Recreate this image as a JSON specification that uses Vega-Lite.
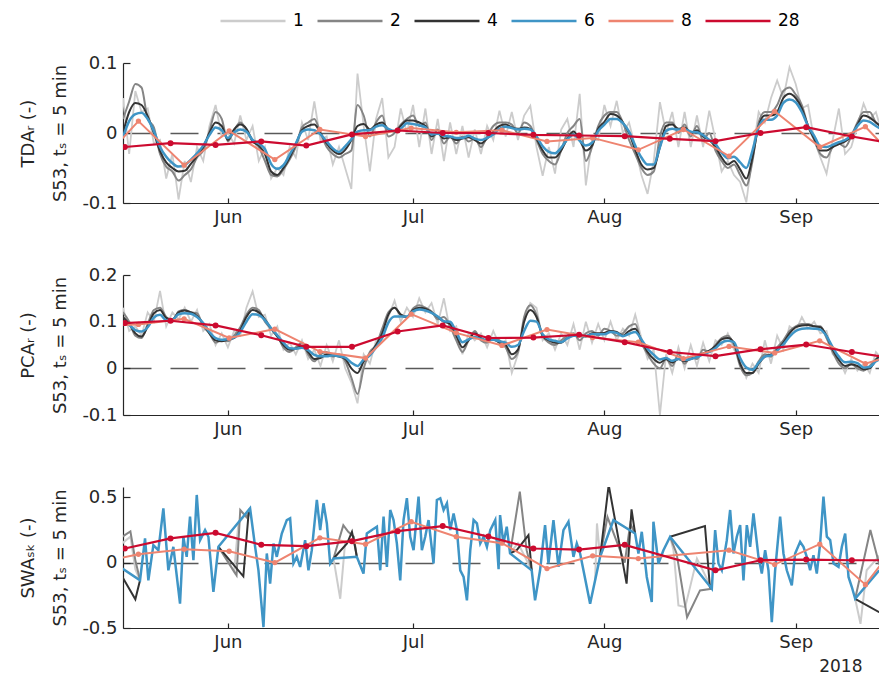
{
"$schema":"https://vega.github.io/schema/vega-lite/v6.json",
"background":"white",
"padding":{"left":19,"top":-13,"right":0,"bottom":0},
"spacing":72,
"bounds":"flush",
"resolve":{"scale":{"color":"shared"}},
"config":{
 "font":"DejaVu Sans",
 "view":{"stroke":null},
 "axis":{"grid":false,"domainColor":"#262626","tickColor":"#262626","labelColor":"#262626","titleColor":"#262626","labelFontSize":18,"titleFontSize":18,"titleFontWeight":"normal","domainWidth":1.2,"tickWidth":1.2,"labelFlush":false},
 "axisX":{"tickSize":-5,"labelPadding":10},
 "axisY":{"tickSize":-7,"labelPadding":13,"titleLineHeight":32,"titlePadding":12},
 "legend":{"orient":"none","legendX":96,"legendY":-76,"direction":"horizontal","columns":6,"symbolType":"stroke","symbolSize":4225,"symbolStrokeWidth":2.5,"labelFontSize":17,"labelColor":"#000000","labelOffset":6,"columnPadding":8,"padding":0}
},
"datasets":{
"p1":[
{"x":14,"l":0.05,"g":0.02,"k":0,"b":-0.006},{"x":15,"l":-0.03,"g":0.045,"k":0.03,"b":0.017},{"x":16,"l":0.06,"g":0.07,"k":0.043,"b":0.027},{"x":17,"l":0.03,"g":0.065,"k":0.04,"b":0.029},{"x":18,"l":0.035,"g":0.02,"k":0.024,"b":0.02},{"x":19,"l":-0.015,"g":0.008,"k":0,"b":0.003},{"x":20,"l":-0.01,"g":-0.03,"k":-0.026,"b":-0.02},{"x":21,"l":-0.065,"g":-0.048,"k":-0.042,"b":-0.034},{"x":22,"l":-0.03,"g":-0.055,"k":-0.05,"b":-0.043},{"x":23,"l":-0.095,"g":-0.068,"k":-0.055,"b":-0.048},
{"x":24,"l":-0.04,"g":-0.06,"k":-0.054,"b":-0.046},{"x":25,"l":-0.07,"g":-0.052,"k":-0.044,"b":-0.038},{"x":26,"l":-0.02,"g":-0.035,"k":-0.033,"b":-0.029},{"x":27,"l":-0.04,"g":-0.025,"k":-0.02,"b":-0.018},{"x":28,"l":0.01,"g":0.002,"k":0,"b":-0.003},{"x":29,"l":0.04,"g":0.03,"k":0.015,"b":0.008},{"x":30,"l":-0.005,"g":0.02,"k":0.01,"b":0.004},{"x":31,"l":0,"g":-0.012,"k":-0.01,"b":-0.007},{"x":32,"l":-0.015,"g":0.004,"k":0.005,"b":0.001},{"x":33,"l":0.025,"g":0.015,"k":0.012,"b":0.005},
{"x":34,"l":-0.01,"g":0.005,"k":0.006,"b":0.002},{"x":35,"l":0.01,"g":-0.01,"k":-0.012,"b":-0.01},{"x":36,"l":-0.04,"g":-0.02,"k":-0.018,"b":-0.015},{"x":37,"l":-0.02,"g":-0.04,"k":-0.03,"b":-0.023},{"x":38,"l":-0.065,"g":-0.06,"k":-0.055,"b":-0.044},{"x":39,"l":-0.05,"g":-0.062,"k":-0.06,"b":-0.051},{"x":40,"l":-0.06,"g":-0.052,"k":-0.05,"b":-0.046},{"x":41,"l":-0.02,"g":-0.038,"k":-0.035,"b":-0.031},{"x":42,"l":-0.035,"g":-0.02,"k":-0.016,"b":-0.015},{"x":43,"l":0.015,"g":0.008,"k":0.004,"b":0.002},
{"x":44,"l":-0.01,"g":0.015,"k":0.01,"b":0.005},{"x":45,"l":0.045,"g":0.02,"k":0.012,"b":0.004},{"x":46,"l":-0.01,"g":0,"k":0,"b":-0.002},{"x":47,"l":-0.005,"g":-0.02,"k":-0.015,"b":-0.012},{"x":48,"l":-0.045,"g":-0.03,"k":-0.025,"b":-0.022},{"x":49,"l":-0.02,"g":-0.035,"k":-0.03,"b":-0.027},{"x":50,"l":-0.05,"g":-0.03,"k":-0.024,"b":-0.019},{"x":51,"l":-0.08,"g":-0.025,"k":-0.01,"b":-0.009},{"x":52,"l":0.085,"g":0.04,"k":0.01,"b":0.002},{"x":53,"l":0.01,"g":0.025,"k":0.013,"b":0.004},
{"x":54,"l":-0.055,"g":-0.005,"k":0.005,"b":0.004},{"x":55,"l":0.02,"g":0.015,"k":0.012,"b":0.009},{"x":56,"l":0.05,"g":0.025,"k":0.015,"b":0.011},{"x":57,"l":-0.035,"g":-0.005,"k":0.005,"b":0.006},{"x":58,"l":-0.02,"g":0,"k":0.002,"b":0.003},{"x":59,"l":0.035,"g":0.012,"k":0.01,"b":0.006},{"x":60,"l":0,"g":0.02,"k":0.018,"b":0.014},{"x":61,"l":0.04,"g":0.025,"k":0.018,"b":0.013},{"x":62,"l":-0.02,"g":0.01,"k":0.015,"b":0.011},{"x":63,"l":0.035,"g":0.015,"k":0.01,"b":0.008},
{"x":64,"l":-0.03,"g":-0.01,"k":-0.005,"b":-0.002},{"x":65,"l":0.02,"g":0.005,"k":0,"b":-0.001},{"x":66,"l":-0.04,"g":-0.015,"k":-0.008,"b":-0.004},{"x":67,"l":0.015,"g":-0.005,"k":-0.006,"b":-0.005},{"x":68,"l":-0.03,"g":-0.015,"k":-0.01,"b":-0.007},{"x":69,"l":0.01,"g":-0.005,"k":-0.008,"b":-0.007},{"x":70,"l":-0.035,"g":-0.012,"k":-0.006,"b":-0.004},{"x":71,"l":0.005,"g":-0.008,"k":-0.01,"b":-0.008},{"x":72,"l":-0.03,"g":-0.02,"k":-0.015,"b":-0.01},{"x":73,"l":0.01,"g":-0.005,"k":-0.008,"b":-0.007},
{"x":74,"l":-0.01,"g":0.01,"k":0.002,"b":-0.002},{"x":75,"l":0.032,"g":0.015,"k":0.01,"b":0.006},{"x":76,"l":-0.005,"g":0.015,"k":0.012,"b":0.009},{"x":77,"l":0.03,"g":0.012,"k":0.008,"b":0.007},{"x":78,"l":-0.01,"g":0,"k":0.006,"b":0.005},{"x":79,"l":0.025,"g":0.015,"k":0.008,"b":0.006},{"x":80,"l":0.039,"g":0.01,"k":0.006,"b":0.005},{"x":81,"l":-0.02,"g":-0.01,"k":-0.008,"b":-0.005},{"x":82,"l":-0.061,"g":-0.03,"k":-0.025,"b":-0.019},{"x":83,"l":-0.02,"g":-0.04,"k":-0.035,"b":-0.027},
{"x":84,"l":-0.058,"g":-0.045,"k":-0.035,"b":-0.029},{"x":85,"l":0.005,"g":-0.025,"k":-0.025,"b":-0.021},{"x":86,"l":0.02,"g":0,"k":-0.008,"b":-0.009},{"x":87,"l":-0.02,"g":0.01,"k":0.002,"b":-0.002},{"x":88,"l":0.056,"g":0.02,"k":-0.01,"b":-0.011},{"x":89,"l":-0.075,"g":-0.04,"k":-0.025,"b":-0.018},{"x":90,"l":-0.01,"g":-0.02,"k":-0.018,"b":-0.014},{"x":91,"l":-0.01,"g":0.01,"k":0.006,"b":0.003},{"x":92,"l":0.04,"g":0.025,"k":0.016,"b":0.012},{"x":93,"l":0.01,"g":0.03,"k":0.027,"b":0.02},
{"x":94,"l":0.046,"g":0.03,"k":0.025,"b":0.02},{"x":95,"l":0,"g":0.015,"k":0.015,"b":0.014},{"x":96,"l":0.015,"g":-0.01,"k":0,"b":0.002},{"x":97,"l":-0.02,"g":-0.03,"k":-0.024,"b":-0.018},{"x":98,"l":-0.06,"g":-0.05,"k":-0.045,"b":-0.035},{"x":99,"l":-0.087,"g":-0.06,"k":-0.052,"b":-0.045},{"x":100,"l":-0.04,"g":-0.055,"k":-0.05,"b":-0.045},{"x":101,"l":0.044,"g":-0.005,"k":-0.02,"b":-0.02},{"x":102,"l":0,"g":0.015,"k":0.01,"b":0.003},{"x":103,"l":0.03,"g":0.015,"k":0.012,"b":0.006},
{"x":104,"l":-0.02,"g":0,"k":0.006,"b":0.005},{"x":105,"l":0.03,"g":0.012,"k":0.008,"b":0.005},{"x":106,"l":-0.02,"g":-0.005,"k":0,"b":0.002},{"x":107,"l":0.025,"g":0.01,"k":0.004,"b":0.001},{"x":108,"l":-0.02,"g":-0.01,"k":-0.005,"b":-0.003},{"x":109,"l":0.032,"g":0,"k":-0.01,"b":-0.01},{"x":110,"l":-0.01,"g":-0.025,"k":-0.02,"b":-0.016},{"x":111,"l":-0.055,"g":-0.04,"k":-0.035,"b":-0.028},{"x":112,"l":-0.04,"g":-0.05,"k":-0.045,"b":-0.036},{"x":113,"l":-0.06,"g":-0.045,"k":-0.04,"b":-0.034},
{"x":114,"l":-0.07,"g":-0.06,"k":-0.052,"b":-0.042},{"x":115,"l":-0.099,"g":-0.075,"k":-0.065,"b":-0.05},{"x":116,"l":-0.03,"g":-0.04,"k":-0.035,"b":-0.025},{"x":117,"l":0.03,"g":0.015,"k":0.01,"b":0.008},{"x":118,"l":0.015,"g":0.03,"k":0.025,"b":0.019},{"x":119,"l":0.05,"g":0.03,"k":0.025,"b":0.019},{"x":120,"l":0.075,"g":0.04,"k":0.03,"b":0.025},{"x":121,"l":0.05,"g":0.06,"k":0.05,"b":0.043},{"x":122,"l":0.094,"g":0.065,"k":0.056,"b":0.048},{"x":123,"l":0.07,"g":0.055,"k":0.05,"b":0.044},
{"x":124,"l":0.035,"g":0.04,"k":0.035,"b":0.03},{"x":125,"l":0.04,"g":0.01,"k":0.01,"b":0.01},{"x":126,"l":-0.01,"g":-0.01,"k":-0.008,"b":-0.004},{"x":127,"l":-0.035,"g":-0.03,"k":-0.025,"b":-0.019},{"x":128,"l":-0.058,"g":-0.035,"k":-0.025,"b":-0.02},{"x":129,"l":-0.01,"g":-0.02,"k":-0.02,"b":-0.017},{"x":130,"l":0.035,"g":-0.015,"k":-0.016,"b":-0.013},{"x":131,"l":-0.03,"g":-0.02,"k":-0.012,"b":-0.01},{"x":132,"l":-0.02,"g":-0.005,"k":-0.005,"b":-0.003},{"x":133,"l":0.01,"g":0.015,"k":0.012,"b":0.01},
{"x":134,"l":0.042,"g":0.03,"k":0.025,"b":0.018},{"x":135,"l":0.02,"g":0.03,"k":0.022,"b":0.016},{"x":136,"l":0.03,"g":0.015,"k":0.015,"b":0.01},{"x":137,"l":0,"g":0.01,"k":0.008,"b":0.005}
],
"p2":[
{"x":14,"l":0.13,"g":0.12,"k":0.11,"b":0.1},{"x":15,"l":0.08,"g":0.1,"k":0.095,"b":0.093},{"x":16,"l":0.09,"g":0.07,"k":0.075,"b":0.082},{"x":17,"l":0.07,"g":0.065,"k":0.068,"b":0.079},{"x":18,"l":0.12,"g":0.095,"k":0.09,"b":0.088},{"x":19,"l":0.1,"g":0.125,"k":0.118,"b":0.109},{"x":20,"l":0.166,"g":0.13,"k":0.125,"b":0.115},{"x":21,"l":0.09,"g":0.11,"k":0.108,"b":0.103},{"x":22,"l":0.12,"g":0.1,"k":0.105,"b":0.104},{"x":23,"l":0.105,"g":0.122,"k":0.12,"b":0.116},
{"x":24,"l":0.13,"g":0.125,"k":0.124,"b":0.118},{"x":25,"l":0.1,"g":0.12,"k":0.12,"b":0.117},{"x":26,"l":0.125,"g":0.118,"k":0.112,"b":0.11},{"x":27,"l":0.08,"g":0.09,"k":0.095,"b":0.097},{"x":28,"l":0.095,"g":0.075,"k":0.075,"b":0.078},{"x":29,"l":0.05,"g":0.055,"k":0.06,"b":0.065},{"x":30,"l":0.075,"g":0.06,"k":0.058,"b":0.061},{"x":31,"l":0.045,"g":0.058,"k":0.062,"b":0.063},{"x":32,"l":0.08,"g":0.07,"k":0.065,"b":0.066},{"x":33,"l":0.07,"g":0.088,"k":0.082,"b":0.078},
{"x":34,"l":0.13,"g":0.115,"k":0.11,"b":0.1},{"x":35,"l":0.165,"g":0.13,"k":0.125,"b":0.116},{"x":36,"l":0.11,"g":0.125,"k":0.12,"b":0.114},{"x":37,"l":0.115,"g":0.1,"k":0.105,"b":0.103},{"x":38,"l":0.07,"g":0.085,"k":0.085,"b":0.086},{"x":39,"l":0.09,"g":0.07,"k":0.068,"b":0.071},{"x":40,"l":0.04,"g":0.045,"k":0.05,"b":0.055},{"x":41,"l":0.055,"g":0.035,"k":0.04,"b":0.043},{"x":42,"l":0.03,"g":0.045,"k":0.042,"b":0.042},{"x":43,"l":0.06,"g":0.055,"k":0.048,"b":0.044},
{"x":44,"l":0.02,"g":0.03,"k":0.035,"b":0.039},{"x":45,"l":0.04,"g":0.015,"k":0.02,"b":0.029},{"x":46,"l":0.005,"g":0.03,"k":0.022,"b":0.026},{"x":47,"l":0.05,"g":0.035,"k":0.03,"b":0.026},{"x":48,"l":0.015,"g":0.025,"k":0.028,"b":0.028},{"x":49,"l":0.06,"g":0.03,"k":0.025,"b":0.026},{"x":50,"l":0,"g":0.015,"k":0.02,"b":0.023},{"x":51,"l":-0.03,"g":-0.02,"k":0,"b":0.012},{"x":52,"l":-0.075,"g":-0.055,"k":-0.01,"b":0.005},{"x":53,"l":0.03,"g":0,"k":0.015,"b":0.019},
{"x":54,"l":0.01,"g":0.035,"k":0.03,"b":0.028},{"x":55,"l":0.06,"g":0.05,"k":0.05,"b":0.045},{"x":56,"l":0.07,"g":0.085,"k":0.075,"b":0.065},{"x":57,"l":0.11,"g":0.12,"k":0.115,"b":0.098},{"x":58,"l":0.145,"g":0.13,"k":0.13,"b":0.111},{"x":59,"l":0.1,"g":0.115,"k":0.115,"b":0.111},{"x":60,"l":0.13,"g":0.11,"k":0.11,"b":0.111},{"x":61,"l":0.11,"g":0.128,"k":0.125,"b":0.122},{"x":62,"l":0.15,"g":0.135,"k":0.13,"b":0.126},{"x":63,"l":0.12,"g":0.13,"k":0.128,"b":0.124},
{"x":64,"l":0.14,"g":0.122,"k":0.12,"b":0.119},{"x":65,"l":0.095,"g":0.105,"k":0.11,"b":0.111},{"x":66,"l":0.15,"g":0.11,"k":0.1,"b":0.101},{"x":67,"l":0.08,"g":0.09,"k":0.095,"b":0.1},{"x":68,"l":0.09,"g":0.06,"k":0.07,"b":0.078},{"x":69,"l":0.03,"g":0.035,"k":0.045,"b":0.056},{"x":70,"l":0.075,"g":0.06,"k":0.06,"b":0.062},{"x":71,"l":0.06,"g":0.08,"k":0.075,"b":0.067},{"x":72,"l":0.075,"g":0.06,"k":0.065,"b":0.063},{"x":73,"l":0.045,"g":0.055,"k":0.06,"b":0.061},
{"x":74,"l":0.08,"g":0.065,"k":0.062,"b":0.061},{"x":75,"l":0.05,"g":0.06,"k":0.055,"b":0.058},{"x":76,"l":0.06,"g":0.045,"k":0.05,"b":0.055},{"x":77,"l":-0.01,"g":0.02,"k":0.03,"b":0.046},{"x":78,"l":0.03,"g":0.035,"k":0.04,"b":0.05},{"x":79,"l":0.1,"g":0.11,"k":0.1,"b":0.08},{"x":80,"l":0.14,"g":0.135,"k":0.125,"b":0.102},{"x":81,"l":0.13,"g":0.115,"k":0.11,"b":0.1},{"x":82,"l":0.06,"g":0.07,"k":0.07,"b":0.073},{"x":83,"l":0.075,"g":0.055,"k":0.06,"b":0.062},
{"x":84,"l":0.04,"g":0.05,"k":0.055,"b":0.059},{"x":85,"l":0.075,"g":0.06,"k":0.055,"b":0.056},{"x":86,"l":0.05,"g":0.07,"k":0.065,"b":0.064},{"x":87,"l":0.095,"g":0.075,"k":0.07,"b":0.07},{"x":88,"l":0.04,"g":0.06,"k":0.07,"b":0.07},{"x":89,"l":0.1,"g":0.075,"k":0.068,"b":0.069},{"x":90,"l":0.055,"g":0.08,"k":0.075,"b":0.073},{"x":91,"l":0.095,"g":0.07,"k":0.075,"b":0.073},{"x":92,"l":0.06,"g":0.085,"k":0.076,"b":0.073},{"x":93,"l":0.1,"g":0.08,"k":0.08,"b":0.078},
{"x":94,"l":0.06,"g":0.07,"k":0.078,"b":0.076},{"x":95,"l":0.085,"g":0.075,"k":0.07,"b":0.069},{"x":96,"l":0.07,"g":0.09,"k":0.08,"b":0.074},{"x":97,"l":0.115,"g":0.095,"k":0.085,"b":0.078},{"x":98,"l":0.065,"g":0.055,"k":0.06,"b":0.062},{"x":99,"l":0.02,"g":0.03,"k":0.035,"b":0.042},{"x":100,"l":0.04,"g":0.01,"k":0.02,"b":0.029},{"x":101,"l":-0.1,"g":0,"k":0.012,"b":0.019},{"x":102,"l":0.03,"g":0.02,"k":0.02,"b":0.022},{"x":103,"l":-0.01,"g":0.005,"k":0.012,"b":0.016},
{"x":104,"l":0.045,"g":0.03,"k":0.02,"b":0.02},{"x":105,"l":0,"g":0.01,"k":0.015,"b":0.018},{"x":106,"l":0.05,"g":0.025,"k":0.02,"b":0.02},{"x":107,"l":0.005,"g":0.02,"k":0.025,"b":0.024},{"x":108,"l":0.055,"g":0.04,"k":0.032,"b":0.03},{"x":109,"l":0.015,"g":0.035,"k":0.038,"b":0.035},{"x":110,"l":0.06,"g":0.05,"k":0.048,"b":0.043},{"x":111,"l":0.05,"g":0.065,"k":0.062,"b":0.055},{"x":112,"l":0.075,"g":0.07,"k":0.065,"b":0.059},{"x":113,"l":0.04,"g":0.05,"k":0.055,"b":0.056},
{"x":114,"l":0.02,"g":0.005,"k":0.01,"b":0.022},{"x":115,"l":-0.02,"g":-0.015,"k":-0.01,"b":0.002},{"x":116,"l":0.01,"g":-0.01,"k":-0.01,"b":-0.003},{"x":117,"l":-0.01,"g":0.015,"k":0.01,"b":0.012},{"x":118,"l":0.06,"g":0.03,"k":0.025,"b":0.025},{"x":119,"l":0.01,"g":0.025,"k":0.03,"b":0.028},{"x":120,"l":0.07,"g":0.045,"k":0.04,"b":0.038},{"x":121,"l":0.04,"g":0.06,"k":0.055,"b":0.051},{"x":122,"l":0.09,"g":0.08,"k":0.075,"b":0.068},{"x":123,"l":0.08,"g":0.09,"k":0.088,"b":0.08},
{"x":124,"l":0.11,"g":0.095,"k":0.092,"b":0.085},{"x":125,"l":0.085,"g":0.095,"k":0.093,"b":0.086},{"x":126,"l":0.1,"g":0.09,"k":0.09,"b":0.085},{"x":127,"l":0.075,"g":0.09,"k":0.088,"b":0.083},{"x":128,"l":0.08,"g":0.065,"k":0.07,"b":0.069},{"x":129,"l":0.03,"g":0.035,"k":0.04,"b":0.045},{"x":130,"l":0.02,"g":0.01,"k":0.018,"b":0.025},{"x":131,"l":-0.01,"g":0,"k":0.005,"b":0.013},{"x":132,"l":0.02,"g":0.01,"k":0.008,"b":0.014},{"x":133,"l":-0.005,"g":0,"k":0.005,"b":0.011},
{"x":134,"l":0.01,"g":-0.005,"k":-0.002,"b":0.002},{"x":135,"l":-0.01,"g":0.005,"k":0,"b":0.003},{"x":136,"l":0.035,"g":0.02,"k":0.018,"b":0.015},{"x":137,"l":0.02,"g":0.03,"k":0.028,"b":0.022}
],
"p3":[
{"x":13.9,"y":-0.045},{"x":16.76,"y":-0.135},{"x":17.57,"y":0.186},{"x":18.11,"y":-0.135},{"x":18.92,"y":0.135},{"x":19.73,"y":0.096},{"x":20.54,"y":0.417},{"x":21.35,"y":-0.058},{"x":22.16,"y":0.122},{"x":23.24,"y":-0.314},{"x":23.78,"y":0.199},{"x":24.32,"y":0.045},{"x":24.86,"y":0.353},{"x":25.41,"y":0.019},{"x":25.95,"y":0.519},{"x":26.49,"y":0.173},{"x":27.3,"y":0.25},{"x":27.84,"y":0.199},{"x":28.65,"y":-0.224},{"x":29.46,"y":0.122},
{"x":34.59,"y":0.417},{"x":35.41,"y":0.122},{"x":35.95,"y":-0.058},{"x":36.76,"y":-0.494},{"x":37.3,"y":0.071},{"x":37.84,"y":-0.16},{"x":38.38,"y":0.147},{"x":38.92,"y":0.045},{"x":39.73,"y":0.224},{"x":40.54,"y":0.327},{"x":41.08,"y":0.34},{"x":41.62,"y":-0.006},{"x":42.16,"y":0.045},{"x":42.7,"y":-0.032},{"x":43.51,"y":0.173},{"x":44.05,"y":-0.058},{"x":44.59,"y":0.096},{"x":45.41,"y":0.481},{"x":45.95,"y":0.25},{"x":46.49,"y":0.455},
{"x":47.03,"y":0.301},{"x":47.57,"y":-0.006},{"x":48.11,"y":0.032},{"x":51.89,"y":0.045},{"x":52.97,"y":-0.083},{"x":53.51,"y":0.224},{"x":54.32,"y":0.25},{"x":55.14,"y":0.276},{"x":55.68,"y":-0.058},{"x":56.22,"y":0.353},{"x":56.76,"y":-0.032},{"x":57.3,"y":0.404},{"x":57.84,"y":0.327},{"x":58.38,"y":0.147},{"x":58.92,"y":-0.135},{"x":59.46,"y":0.327},{"x":60.0,"y":0.494},{"x":60.54,"y":0.199},{"x":61.08,"y":0.096},{"x":61.89,"y":0.506},
{"x":62.43,"y":0.096},{"x":62.97,"y":0.199},{"x":63.51,"y":0.327},{"x":64.32,"y":-0.006},{"x":64.86,"y":0.481},{"x":65.41,"y":0.494},{"x":65.95,"y":0.404},{"x":66.49,"y":0.455},{"x":67.03,"y":0.25},{"x":67.57,"y":0.378},{"x":68.11,"y":0.25},{"x":68.65,"y":-0.058},{"x":69.19,"y":-0.109},{"x":69.73,"y":-0.288},{"x":70.27,"y":0.096},{"x":70.81,"y":0.327},{"x":71.35,"y":0.301},{"x":71.89,"y":0.147},{"x":72.43,"y":0.199},{"x":72.97,"y":0.122},
{"x":73.51,"y":0.25},{"x":74.32,"y":0.327},{"x":74.86,"y":-0.05},{"x":75.1,"y":0.365},{"x":75.64,"y":0.147},{"x":76.18,"y":0.276},{"x":76.72,"y":0.071},{"x":80.23,"y":-0.058},{"x":80.77,"y":-0.288},{"x":81.58,"y":-0.058},{"x":82.39,"y":0.288},{"x":82.94,"y":-0.006},{"x":83.75,"y":0.327},{"x":84.56,"y":-0.032},{"x":85.37,"y":0.25},{"x":86.18,"y":0.314},{"x":86.99,"y":0.045},{"x":87.53,"y":0.147},{"x":88.07,"y":0.071},{"x":88.61,"y":-0.058},
{"x":89.69,"y":-0.314},{"x":90.5,"y":-0.135},{"x":91.31,"y":0.045},{"x":93.47,"y":0.327},{"x":96.98,"y":0.224},{"x":97.52,"y":0.071},{"x":98.06,"y":0.237},{"x":98.87,"y":-0.109},{"x":99.68,"y":-0.301},{"x":99.95,"y":0.314},{"x":100.76,"y":-0.006},{"x":101.57,"y":0.096},{"x":102.65,"y":0.199},{"x":109.41,"y":-0.199},{"x":109.95,"y":0.25},{"x":110.49,"y":-0.006},{"x":111.03,"y":-0.058},{"x":111.84,"y":0.173},{"x":112.38,"y":0.404},{"x":112.92,"y":0.071},
{"x":113.46,"y":0.199},{"x":114.0,"y":0.288},{"x":114.54,"y":-0.135},{"x":115.08,"y":0.288},{"x":115.62,"y":0.122},{"x":116.16,"y":0.378},{"x":116.97,"y":0.045},{"x":117.51,"y":-0.083},{"x":118.05,"y":0.096},{"x":118.59,"y":-0.058},{"x":119.13,"y":-0.455},{"x":119.67,"y":-0.058},{"x":120.48,"y":0.353},{"x":121.02,"y":0.071},{"x":121.56,"y":-0.058},{"x":122.37,"y":-0.173},{"x":122.91,"y":0.071},{"x":123.72,"y":0.16},{"x":124.26,"y":0.122},{"x":124.8,"y":0.045},
{"x":125.34,"y":-0.058},{"x":125.88,"y":0.058},{"x":126.42,"y":-0.083},{"x":126.96,"y":0.147},{"x":127.5,"y":0.506},{"x":128.05,"y":0.199},{"x":128.59,"y":0.173},{"x":129.13,"y":-0.006},{"x":129.94,"y":-0.032},{"x":130.48,"y":0.122},{"x":131.02,"y":0.224},{"x":131.56,"y":-0.109},{"x":132.1,"y":-0.186},{"x":132.64,"y":-0.276},{"x":136.53,"y":-0.058}
],
"p3s":[
{"s":"1","g":"a","x":13.9,"y":0.15},{"s":"1","g":"a","x":15.2,"y":0.2},{"s":"1","g":"a","x":16,"y":-0.05},{"s":"1","g":"a","x":16.76,"y":-0.135},
{"s":"2","g":"a","x":13.9,"y":0.2},{"s":"2","g":"a","x":15.2,"y":0.24},{"s":"2","g":"a","x":16,"y":0.02},{"s":"2","g":"a","x":16.76,"y":-0.135},
{"s":"4","g":"a","x":13.9,"y":-0.11},{"s":"4","g":"a","x":16,"y":-0.28},{"s":"4","g":"a","x":16.76,"y":-0.135},
{"s":"1","g":"b","x":29.46,"y":0.122},{"s":"1","g":"b","x":32,"y":-0.07},{"s":"1","g":"b","x":32.7,"y":0.3},{"s":"1","g":"b","x":34.59,"y":0.417},
{"s":"2","g":"b","x":29.46,"y":0.122},{"s":"2","g":"b","x":32.4,"y":-0.096},{"s":"2","g":"b","x":33,"y":0.404},{"s":"2","g":"b","x":34,"y":0.35},{"s":"2","g":"b","x":34.59,"y":0.417},
{"s":"4","g":"b","x":29.46,"y":0.122},{"s":"4","g":"b","x":33.5,"y":-0.104},{"s":"4","g":"b","x":34.3,"y":0.35},{"s":"4","g":"b","x":34.59,"y":0.417},
{"s":"1","g":"c","x":48.11,"y":0.032},{"s":"1","g":"c","x":49.2,"y":-0.276},{"s":"1","g":"c","x":50,"y":0.16},{"s":"1","g":"c","x":51.4,"y":0.173},{"s":"1","g":"c","x":51.89,"y":0.045},
{"s":"2","g":"c","x":48.11,"y":0.032},{"s":"2","g":"c","x":49.7,"y":0.288},{"s":"2","g":"c","x":50.5,"y":0.237},{"s":"2","g":"c","x":51.4,"y":0.199},{"s":"2","g":"c","x":51.89,"y":0.045},
{"s":"4","g":"c","x":48.11,"y":0.032},{"s":"4","g":"c","x":50.3,"y":0.147},{"s":"4","g":"c","x":51.1,"y":0.237},{"s":"4","g":"c","x":51.6,"y":0.122},{"s":"4","g":"c","x":51.89,"y":0.045},
{"s":"1","g":"d","x":76.72,"y":0.071},{"s":"1","g":"d","x":78,"y":0.15},{"s":"1","g":"d","x":80.23,"y":-0.058},
{"s":"2","g":"d","x":76.72,"y":0.071},{"s":"2","g":"d","x":78.3,"y":0.545},{"s":"2","g":"d","x":79.4,"y":0.096},{"s":"2","g":"d","x":80.23,"y":-0.058},
{"s":"4","g":"d","x":76.72,"y":0.071},{"s":"4","g":"d","x":77.8,"y":0.096},{"s":"4","g":"d","x":79.7,"y":0.212},{"s":"4","g":"d","x":80.23,"y":-0.058},
{"s":"1","g":"e","x":90.5,"y":-0.135},{"s":"1","g":"e","x":90.8,"y":0.301},{"s":"1","g":"e","x":91.31,"y":0.045},{"s":"1","g":"e","x":93.47,"y":0.327},{"s":"1","g":"e","x":96.98,"y":0.224},
{"s":"2","g":"e","x":91.31,"y":0.045},{"s":"2","g":"e","x":92.5,"y":0.35},{"s":"2","g":"e","x":95.3,"y":0},{"s":"2","g":"e","x":96.2,"y":0.3},{"s":"2","g":"e","x":96.98,"y":0.224},
{"s":"4","g":"e","x":91.31,"y":0.045},{"s":"4","g":"e","x":92.7,"y":0.596},{"s":"4","g":"e","x":95.6,"y":-0.16},{"s":"4","g":"e","x":96.4,"y":0.409},{"s":"4","g":"e","x":96.98,"y":0.224},
{"s":"1","g":"f","x":102.65,"y":0.199},{"s":"1","g":"f","x":103.2,"y":0.096},{"s":"1","g":"f","x":104,"y":-0.327},{"s":"1","g":"f","x":105.1,"y":-0.34},{"s":"1","g":"f","x":107,"y":0.032},{"s":"1","g":"f","x":109.41,"y":-0.199},
{"s":"2","g":"f","x":102.65,"y":0.199},{"s":"2","g":"f","x":103.7,"y":0.071},{"s":"2","g":"f","x":105.4,"y":-0.417},{"s":"2","g":"f","x":107.5,"y":-0.212},{"s":"2","g":"f","x":109.41,"y":-0.199},
{"s":"4","g":"f","x":102.65,"y":0.199},{"s":"4","g":"f","x":108.3,"y":0.281},{"s":"4","g":"f","x":109.1,"y":-0.186},{"s":"4","g":"f","x":109.41,"y":-0.199},
{"s":"1","g":"g","x":132.64,"y":-0.276},{"s":"1","g":"g","x":133.5,"y":-0.468},{"s":"1","g":"g","x":134.5,"y":-0.058},{"s":"1","g":"g","x":136.5,"y":0.05},{"s":"1","g":"g","x":138,"y":-0.2},
{"s":"2","g":"g","x":132.64,"y":-0.276},{"s":"2","g":"g","x":135.1,"y":0.25},{"s":"2","g":"g","x":136.5,"y":-0.006},{"s":"2","g":"g","x":138,"y":-0.1},
{"s":"4","g":"g","x":132.64,"y":-0.276},{"s":"4","g":"g","x":136.5,"y":-0.378},{"s":"4","g":"g","x":138,"y":-0.38}
],
"m8":[
{"x":9.2,"a":-0.053,"b":0.09,"c":-0.01},{"x":16.5,"a":0.017,"b":0.094,"c":0.065},{"x":23.9,"a":-0.046,"b":0.106,"c":0.104},{"x":31.2,"a":0.003,"b":0.065,"c":0.088},{"x":38.6,"a":-0.038,"b":0.084,"c":0.001},{"x":45.9,"a":0.005,"b":0.036,"c":0.191},{"x":53.3,"a":-0.005,"b":0.022,"c":0.142},{"x":60.7,"a":0.007,"b":0.116,"c":0.314},{"x":68.0,"a":0.001,"b":0.076,"c":0.199},{"x":75.4,"a":0.004,"b":0.049,"c":0.15},
{"x":82.7,"a":-0.012,"b":0.083,"c":-0.045},{"x":90.1,"a":-0.007,"b":0.066,"c":0.053},{"x":97.5,"a":-0.024,"b":0.056,"c":0.032},{"x":104.8,"a":0.005,"b":0.021,"c":null},{"x":112.2,"a":-0.033,"b":0.047,"c":0.096},{"x":119.6,"a":0.031,"b":0.033,"c":-0.014},{"x":126.9,"a":-0.02,"b":0.059,"c":0.142},{"x":134.3,"a":0.009,"b":0.01,"c":-0.168},{"x":141.7,"a":-0.06,"b":0.04,"c":0.29}
],
"m28":[
{"x":14.3,"a":-0.02,"b":0.097,"c":0.109},{"x":21.7,"a":-0.0145,"b":0.102,"c":0.186},{"x":29.0,"a":-0.017,"b":0.092,"c":0.229},{"x":36.4,"a":-0.012,"b":0.071,"c":0.137},{"x":43.7,"a":-0.018,"b":0.046,"c":0.127},{"x":51.1,"a":-0.002,"b":0.046,"c":0.165},{"x":58.5,"a":0.0036,"b":0.079,"c":0.242},{"x":65.8,"a":0,"b":0.092,"c":0.281},{"x":73.2,"a":0,"b":0.065,"c":0.2},
{"x":80.5,"a":-0.0026,"b":0.066,"c":0.109},{"x":87.9,"a":-0.0036,"b":0.072,"c":0.101},{"x":95.3,"a":-0.0045,"b":0.056,"c":0.137},{"x":102.6,"a":-0.0083,"b":0.035,"c":null},{"x":110.0,"a":-0.0117,"b":0.026,"c":-0.058},{"x":117.3,"a":0,"b":0.041,"c":0.019},{"x":124.7,"a":0.0083,"b":0.051,"c":0.024},{"x":132.1,"a":-0.005,"b":0.035,"c":0.019},{"x":139.4,"a":-0.016,"b":0.02,"c":0.019}
]
},
"vconcat":[
{
 "width":756,"height":140,
 "encoding":{"x":{"field":"x","type":"quantitative","scale":{"domain":[14,136.5],"nice":false,"zero":false},"axis":{"values":[31,61,92,123],"labelExpr":"datum.value==31?'Jun':datum.value==61?'Jul':datum.value==92?'Aug':'Sep'","title":null}}},
 "layer":[
  {"data":{"name":"p1"},"mark":{"type":"line","clip":true,"strokeWidth":1.8},"encoding":{"y":{"field":"l","type":"quantitative","scale":{"domain":[-0.1,0.1],"nice":false,"zero":false},"axis":{"title":["TDAᵣ (-)","S53, tₛ = 5 min"],"values":[-0.1,0,0.1],"labelExpr":"datum.value==0?'0':(datum.value<0?'-':'')+format(abs(datum.value),'.1f')","grid":true,"gridDash":[28,19],"gridColor":"#595959","gridWidth":1.3,"gridOpacity":{"condition":{"test":"datum.value===0","value":1},"value":0}}},"color":{"datum":"1","type":"nominal","scale":{"domain":["1","2","4","6","8","28"],"range":["#cccccc","#858585","#333333","#3f95c6","#ee8470","#cc0a2f"]},"legend":{"title":null}}}},
  {"data":{"name":"p1"},"mark":{"type":"line","clip":true,"strokeWidth":2,"interpolate":"monotone"},"encoding":{"y":{"field":"g","type":"quantitative","scale":{"domain":[-0.1,0.1],"nice":false,"zero":false}},"color":{"datum":"2","type":"nominal","scale":{"domain":["1","2","4","6","8","28"],"range":["#cccccc","#858585","#333333","#3f95c6","#ee8470","#cc0a2f"]},"legend":{"title":null}}}},
  {"data":{"name":"p1"},"mark":{"type":"line","clip":true,"strokeWidth":2,"interpolate":"monotone"},"encoding":{"y":{"field":"k","type":"quantitative","scale":{"domain":[-0.1,0.1],"nice":false,"zero":false}},"color":{"datum":"4","type":"nominal","scale":{"domain":["1","2","4","6","8","28"],"range":["#cccccc","#858585","#333333","#3f95c6","#ee8470","#cc0a2f"]},"legend":{"title":null}}}},
  {"data":{"name":"p1"},"mark":{"type":"line","clip":true,"strokeWidth":2.5,"interpolate":"monotone"},"encoding":{"y":{"field":"b","type":"quantitative","scale":{"domain":[-0.1,0.1],"nice":false,"zero":false}},"color":{"datum":"6","type":"nominal","scale":{"domain":["1","2","4","6","8","28"],"range":["#cccccc","#858585","#333333","#3f95c6","#ee8470","#cc0a2f"]},"legend":{"title":null}}}},
  {"data":{"name":"m8"},"mark":{"type":"line","clip":true,"strokeWidth":2,"invalid":"filter"},"encoding":{"y":{"field":"a","type":"quantitative","scale":{"domain":[-0.1,0.1],"nice":false,"zero":false}},"color":{"datum":"8","type":"nominal","scale":{"domain":["1","2","4","6","8","28"],"range":["#cccccc","#858585","#333333","#3f95c6","#ee8470","#cc0a2f"]},"legend":{"title":null}}}},
  {"data":{"name":"m8"},"mark":{"type":"point","clip":true,"filled":true,"size":28,"opacity":1,"color":"#ee8470","invalid":"filter"},"encoding":{"y":{"field":"a","type":"quantitative","scale":{"domain":[-0.1,0.1],"nice":false,"zero":false}}}},
  {"data":{"name":"m28"},"mark":{"type":"line","clip":true,"strokeWidth":2.2,"invalid":"filter"},"encoding":{"y":{"field":"a","type":"quantitative","scale":{"domain":[-0.1,0.1],"nice":false,"zero":false}},"color":{"datum":"28","type":"nominal","scale":{"domain":["1","2","4","6","8","28"],"range":["#cccccc","#858585","#333333","#3f95c6","#ee8470","#cc0a2f"]},"legend":{"title":null}}}},
  {"data":{"name":"m28"},"mark":{"type":"point","clip":true,"filled":true,"size":36,"opacity":1,"color":"#cc0a2f","invalid":"filter"},"encoding":{"y":{"field":"a","type":"quantitative","scale":{"domain":[-0.1,0.1],"nice":false,"zero":false}}}}
 ]
},
{
 "width":756,"height":140,
 "encoding":{"x":{"field":"x","type":"quantitative","scale":{"domain":[14,136.5],"nice":false,"zero":false},"axis":{"values":[31,61,92,123],"labelExpr":"datum.value==31?'Jun':datum.value==61?'Jul':datum.value==92?'Aug':'Sep'","title":null}}},
 "layer":[
  {"data":{"name":"p2"},"mark":{"type":"line","clip":true,"strokeWidth":1.8},"encoding":{"y":{"field":"l","type":"quantitative","scale":{"domain":[-0.1,0.2],"nice":false,"zero":false},"axis":{"title":["PCAᵣ (-)","S53, tₛ = 5 min"],"values":[-0.1,0,0.1,0.2],"labelExpr":"datum.value==0?'0':(datum.value<0?'-':'')+format(abs(datum.value),'.1f')","grid":true,"gridDash":[28,19],"gridColor":"#595959","gridWidth":1.3,"gridOpacity":{"condition":{"test":"datum.value===0","value":1},"value":0}}},"color":{"datum":"1","type":"nominal","scale":{"domain":["1","2","4","6","8","28"],"range":["#cccccc","#858585","#333333","#3f95c6","#ee8470","#cc0a2f"]},"legend":{"title":null}}}},
  {"data":{"name":"p2"},"mark":{"type":"line","clip":true,"strokeWidth":2,"interpolate":"monotone"},"encoding":{"y":{"field":"g","type":"quantitative","scale":{"domain":[-0.1,0.2],"nice":false,"zero":false}},"color":{"datum":"2","type":"nominal","scale":{"domain":["1","2","4","6","8","28"],"range":["#cccccc","#858585","#333333","#3f95c6","#ee8470","#cc0a2f"]},"legend":{"title":null}}}},
  {"data":{"name":"p2"},"mark":{"type":"line","clip":true,"strokeWidth":2,"interpolate":"monotone"},"encoding":{"y":{"field":"k","type":"quantitative","scale":{"domain":[-0.1,0.2],"nice":false,"zero":false}},"color":{"datum":"4","type":"nominal","scale":{"domain":["1","2","4","6","8","28"],"range":["#cccccc","#858585","#333333","#3f95c6","#ee8470","#cc0a2f"]},"legend":{"title":null}}}},
  {"data":{"name":"p2"},"mark":{"type":"line","clip":true,"strokeWidth":2.5,"interpolate":"monotone"},"encoding":{"y":{"field":"b","type":"quantitative","scale":{"domain":[-0.1,0.2],"nice":false,"zero":false}},"color":{"datum":"6","type":"nominal","scale":{"domain":["1","2","4","6","8","28"],"range":["#cccccc","#858585","#333333","#3f95c6","#ee8470","#cc0a2f"]},"legend":{"title":null}}}},
  {"data":{"name":"m8"},"mark":{"type":"line","clip":true,"strokeWidth":2,"invalid":"filter"},"encoding":{"y":{"field":"b","type":"quantitative","scale":{"domain":[-0.1,0.2],"nice":false,"zero":false}},"color":{"datum":"8","type":"nominal","scale":{"domain":["1","2","4","6","8","28"],"range":["#cccccc","#858585","#333333","#3f95c6","#ee8470","#cc0a2f"]},"legend":{"title":null}}}},
  {"data":{"name":"m8"},"mark":{"type":"point","clip":true,"filled":true,"size":28,"opacity":1,"color":"#ee8470","invalid":"filter"},"encoding":{"y":{"field":"b","type":"quantitative","scale":{"domain":[-0.1,0.2],"nice":false,"zero":false}}}},
  {"data":{"name":"m28"},"mark":{"type":"line","clip":true,"strokeWidth":2.2,"invalid":"filter"},"encoding":{"y":{"field":"b","type":"quantitative","scale":{"domain":[-0.1,0.2],"nice":false,"zero":false}},"color":{"datum":"28","type":"nominal","scale":{"domain":["1","2","4","6","8","28"],"range":["#cccccc","#858585","#333333","#3f95c6","#ee8470","#cc0a2f"]},"legend":{"title":null}}}},
  {"data":{"name":"m28"},"mark":{"type":"point","clip":true,"filled":true,"size":36,"opacity":1,"color":"#cc0a2f","invalid":"filter"},"encoding":{"y":{"field":"b","type":"quantitative","scale":{"domain":[-0.1,0.2],"nice":false,"zero":false}}}}
 ]
},
{
 "width":756,"height":141,
 "encoding":{"x":{"field":"x","type":"quantitative","scale":{"domain":[14,136.5],"nice":false,"zero":false},"axis":{"values":[31,61,92,123],"labelExpr":"datum.value==31?'Jun':datum.value==61?'Jul':datum.value==92?'Aug':'Sep'","title":"2018","titleFontSize":17,"titleAlign":"right","titleX":739,"titleY":38,"titleBaseline":"middle"}}},
 "layer":[
  {"data":{"name":"p3s"},"mark":{"type":"line","clip":true,"strokeWidth":2},"encoding":{"y":{"field":"y","type":"quantitative","scale":{"domain":[-0.5,0.58],"nice":false,"zero":false},"axis":{"title":["SWAₛₖ (-)","S53, tₛ = 5 min"],"values":[-0.5,0,0.5],"labelExpr":"datum.value==0?'0':(datum.value<0?'-':'')+format(abs(datum.value),'.1f')","grid":true,"gridDash":[28,19],"gridColor":"#595959","gridWidth":1.3,"gridOpacity":{"condition":{"test":"datum.value===0","value":1},"value":0}}},"detail":{"field":"g","type":"nominal"},"color":{"field":"s","type":"nominal","scale":{"domain":["1","2","4","6","8","28"],"range":["#cccccc","#858585","#333333","#3f95c6","#ee8470","#cc0a2f"]},"legend":{"title":null}}}},
  {"data":{"name":"p3"},"mark":{"type":"line","clip":true,"strokeWidth":2.5},"encoding":{"y":{"field":"y","type":"quantitative","scale":{"domain":[-0.5,0.58],"nice":false,"zero":false}},"color":{"datum":"6","type":"nominal","scale":{"domain":["1","2","4","6","8","28"],"range":["#cccccc","#858585","#333333","#3f95c6","#ee8470","#cc0a2f"]},"legend":{"title":null}}}},
  {"data":{"name":"m8"},"mark":{"type":"line","clip":true,"strokeWidth":2,"invalid":"filter"},"encoding":{"y":{"field":"c","type":"quantitative","scale":{"domain":[-0.5,0.58],"nice":false,"zero":false}},"color":{"datum":"8","type":"nominal","scale":{"domain":["1","2","4","6","8","28"],"range":["#cccccc","#858585","#333333","#3f95c6","#ee8470","#cc0a2f"]},"legend":{"title":null}}}},
  {"data":{"name":"m8"},"mark":{"type":"point","clip":true,"filled":true,"size":28,"opacity":1,"color":"#ee8470","invalid":"filter"},"encoding":{"y":{"field":"c","type":"quantitative","scale":{"domain":[-0.5,0.58],"nice":false,"zero":false}}}},
  {"data":{"name":"m28"},"mark":{"type":"line","clip":true,"strokeWidth":2.2,"invalid":"filter"},"encoding":{"y":{"field":"c","type":"quantitative","scale":{"domain":[-0.5,0.58],"nice":false,"zero":false}},"color":{"datum":"28","type":"nominal","scale":{"domain":["1","2","4","6","8","28"],"range":["#cccccc","#858585","#333333","#3f95c6","#ee8470","#cc0a2f"]},"legend":{"title":null}}}},
  {"data":{"name":"m28"},"mark":{"type":"point","clip":true,"filled":true,"size":36,"opacity":1,"color":"#cc0a2f","invalid":"filter"},"encoding":{"y":{"field":"c","type":"quantitative","scale":{"domain":[-0.5,0.58],"nice":false,"zero":false}}}}
 ]
}
]
}
